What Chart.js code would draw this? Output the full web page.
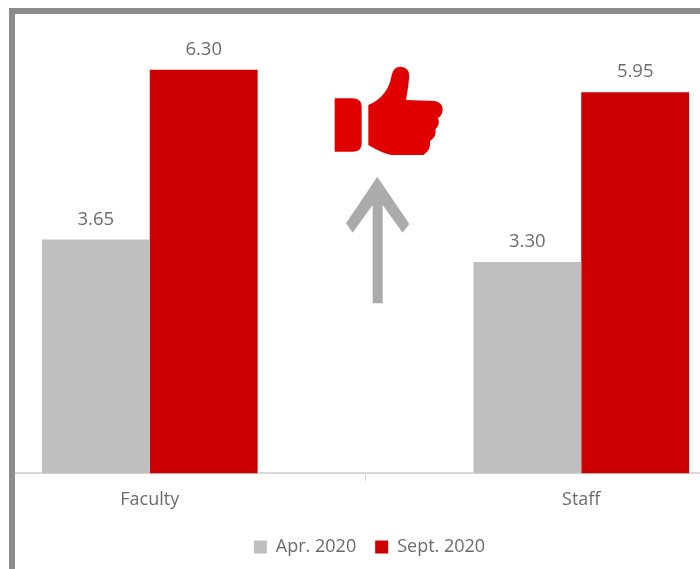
<!DOCTYPE html>
<html>
<head>
<meta charset="utf-8">
<style>
    html, body { margin: 0; padding: 0; background: #fff; overflow: hidden; }
    #page { position: relative; width: 700px; height: 569px; filter: blur(0.45px); }
    /* the source is a cropped screenshot, only left and top of the frame show */
    #frame { position: absolute; left: 9px; top: 8px; width: 685px; height: 555px;
             border-left: 6px solid #8c8c8c; border-top: 6px solid #8c8c8c; overflow: hidden; background: #fff; }
    #holder { position: absolute; left: -81px; top: -14px; width: 863px; height: 578px; }
    #icons { position: absolute; left: 0; top: 0; }
</style>
</head>
<body>
<div id="page">
    <div id="frame">
        <div id="holder"><canvas id="resourceChart" width="863" height="578"></canvas></div>
    </div>
    <svg id="icons" width="700" height="569">
        <g transform="translate(320,50) scale(0.3333)">
            <path fill="#ababab" d="M172 380 L268 522 L248 548 L188 465 L188 760 L158 760 L158 465 L98 548 L78 520 Z"/>
            <path fill="#e00000" d="M44 145 L100 145 Q125 147 125 170 L125 280 Q125 305 100 305 L44 305 Z"/>
            <path fill="#e00000" d="M145 165 Q205 140 215 75 Q220 50 242 50 Q268 52 268 78 Q265 115 258 150 L345 153 Q368 158 368 180 Q366 198 354 204 Q362 222 346 238 Q352 258 330 274 Q334 300 310 315 L215 315 Q190 312 145 285 Z"/>
        </g>
    </svg>
</div>

<script src="https://cdn.jsdelivr.net/npm/chart.js@4"></script>
<script>
const categories = ["Faculty", "Staff"];
const seriesNames = ["Apr. 2020", "Sept. 2020"];
const aprValues = [3.65, 3.30];
const septValues = [6.30, 5.95];

const textColor = "#6b6b6b";
const fontFamily = "'Open Sans', sans-serif";

// value labels above every bar
const barLabels = {
    id: "barLabels",
    afterDatasetsDraw(chart) {
        const ctx = chart.ctx;
        ctx.save();
        ctx.fillStyle = textColor;
        ctx.font = "18.5px " + fontFamily;
        ctx.textAlign = "center";
        ctx.textBaseline = "bottom";
        chart.data.datasets.forEach((dataset, i) => {
            chart.getDatasetMeta(i).data.forEach((bar, j) => {
                ctx.fillText(dataset.data[j].toFixed(2), bar.x, bar.y - 11);
            });
        });
        ctx.restore();
    }
};

// legend sits a little right of the plot centre in the source
const legendNudge = {
    id: "legendNudge",
    afterLayout(chart) {
        chart.legend.left += 4;
        chart.legend.right += 4;
    }
};

new Chart(document.getElementById("resourceChart").getContext("2d"), {
    type: "bar",
    data: {
        labels: categories,
        datasets: [
            { label: seriesNames[0], data: aprValues, backgroundColor: "#bfbfbf" },
            { label: seriesNames[1], data: septValues, backgroundColor: "#cc0000" }
        ]
    },
    options: {
        responsive: false,
        animation: false,
        categoryPercentage: 0.5,
        barPercentage: 1,
        layout: { padding: { top: 25, bottom: 12, left: 0, right: 0 } },
        plugins: {
            tooltip: { enabled: false },
            legend: {
                position: "bottom",
                labels: {
                    usePointStyle: true,
                    pointStyle: "rect",
                    boxWidth: 13,
                    boxHeight: 13,
                    color: textColor,
                    padding: 19,
                    font: { family: fontFamily, size: 18 }
                }
            }
        },
        scales: {
            x: {
                grid: { drawOnChartArea: false, color: "#d9d9d9", tickLength: 8 },
                border: { color: "#d9d9d9", width: 2 },
                ticks: { color: textColor, padding: 8, maxRotation: 0, font: { family: fontFamily, size: 18 } }
            },
            y: { display: false, min: 0, max: 7 }
        }
    },
    plugins: [barLabels, legendNudge]
});
</script>
</body>
</html>
